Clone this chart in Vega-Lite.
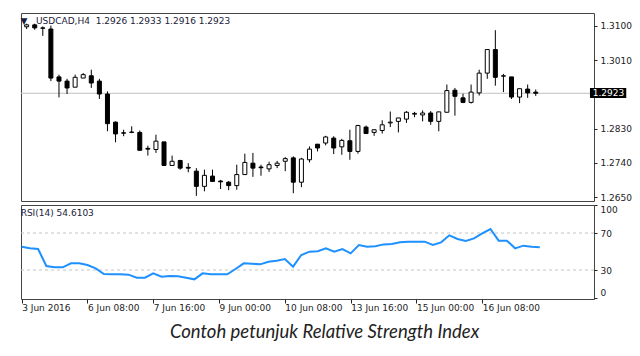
{
  "$schema": "https://vega.github.io/schema/vega-lite/v6.json",
  "padding": {"left": 17, "top": 12, "right": 0, "bottom": 0},
  "autosize": {"type": "pad"},
  "background": "white",
  "config": {
    "view": {"stroke": "#444", "strokeWidth": 1},
    "font": "DejaVu Sans",
    "axis": {"labelFont": "DejaVu Sans", "labelFontSize": 9, "labelColor": "#222", "tickColor": "#222", "tickSize": 3, "domain": false, "grid": false, "title": null, "labelOverlap": false}
  },
  "datasets": {
    "bars": [
      {"i": 0, "o": 1.3098, "h": 1.3106, "l": 1.3092, "c": 1.3103, "r": 55.2},
      {"i": 1, "o": 1.3103, "h": 1.3106, "l": 1.3090, "c": 1.3095, "r": 53.4},
      {"i": 2, "o": 1.3095, "h": 1.3099, "l": 1.3074, "c": 1.3094, "r": 52.7},
      {"i": 3, "o": 1.3092, "h": 1.3101, "l": 1.2955, "c": 1.2963, "r": 34.3},
      {"i": 4, "o": 1.2966, "h": 1.2972, "l": 1.2912, "c": 1.2955, "r": 32.9},
      {"i": 5, "o": 1.2955, "h": 1.2961, "l": 1.2921, "c": 1.2937, "r": 32.9},
      {"i": 6, "o": 1.2939, "h": 1.2972, "l": 1.2939, "c": 1.2965, "r": 37.2},
      {"i": 7, "o": 1.2963, "h": 1.2976, "l": 1.2963, "c": 1.2972, "r": 37.2},
      {"i": 8, "o": 1.2969, "h": 1.2985, "l": 1.2937, "c": 1.2950, "r": 35.4},
      {"i": 9, "o": 1.2955, "h": 1.2961, "l": 1.2908, "c": 1.2921, "r": 31.8},
      {"i": 10, "o": 1.2921, "h": 1.2928, "l": 1.2823, "c": 1.2843, "r": 25.7},
      {"i": 11, "o": 1.2847, "h": 1.2849, "l": 1.2794, "c": 1.2816, "r": 25.3},
      {"i": 12, "o": 1.2819, "h": 1.2827, "l": 1.2810, "c": 1.2818, "r": 25.3},
      {"i": 13, "o": 1.2820, "h": 1.2836, "l": 1.2818, "c": 1.2821, "r": 25.0},
      {"i": 14, "o": 1.2820, "h": 1.2825, "l": 1.2772, "c": 1.2773, "r": 21.7},
      {"i": 15, "o": 1.2778, "h": 1.2785, "l": 1.2759, "c": 1.2776, "r": 21.7},
      {"i": 16, "o": 1.2775, "h": 1.2814, "l": 1.2766, "c": 1.2797, "r": 26.4},
      {"i": 17, "o": 1.2795, "h": 1.2795, "l": 1.2732, "c": 1.2733, "r": 22.8},
      {"i": 18, "o": 1.2733, "h": 1.2759, "l": 1.2732, "c": 1.2744, "r": 23.5},
      {"i": 19, "o": 1.2746, "h": 1.2748, "l": 1.2722, "c": 1.2726, "r": 23.2},
      {"i": 20, "o": 1.2728, "h": 1.2739, "l": 1.2715, "c": 1.2726, "r": 21.7},
      {"i": 21, "o": 1.2718, "h": 1.2726, "l": 1.2653, "c": 1.2678, "r": 19.9},
      {"i": 22, "o": 1.2678, "h": 1.2722, "l": 1.2665, "c": 1.2707, "r": 26.4},
      {"i": 23, "o": 1.2705, "h": 1.2722, "l": 1.2690, "c": 1.2691, "r": 25.3},
      {"i": 24, "o": 1.2692, "h": 1.2695, "l": 1.2671, "c": 1.2690, "r": 25.3},
      {"i": 25, "o": 1.2689, "h": 1.2692, "l": 1.2668, "c": 1.2680, "r": 25.3},
      {"i": 26, "o": 1.2680, "h": 1.2735, "l": 1.2669, "c": 1.2709, "r": 31.1},
      {"i": 27, "o": 1.2709, "h": 1.2764, "l": 1.2709, "c": 1.2741, "r": 37.2},
      {"i": 28, "o": 1.2739, "h": 1.2766, "l": 1.2703, "c": 1.2726, "r": 36.8},
      {"i": 29, "o": 1.2729, "h": 1.2735, "l": 1.2706, "c": 1.2727, "r": 36.1},
      {"i": 30, "o": 1.2724, "h": 1.2743, "l": 1.2716, "c": 1.2735, "r": 39.0},
      {"i": 31, "o": 1.2733, "h": 1.2745, "l": 1.2726, "c": 1.2739, "r": 40.1},
      {"i": 32, "o": 1.2744, "h": 1.2755, "l": 1.2718, "c": 1.2751, "r": 41.9},
      {"i": 33, "o": 1.2753, "h": 1.2757, "l": 1.2660, "c": 1.2689, "r": 33.6},
      {"i": 34, "o": 1.2689, "h": 1.2753, "l": 1.2676, "c": 1.2750, "r": 46.2},
      {"i": 35, "o": 1.2748, "h": 1.2783, "l": 1.2741, "c": 1.2776, "r": 49.8},
      {"i": 36, "o": 1.2789, "h": 1.2789, "l": 1.2770, "c": 1.2779, "r": 50.2},
      {"i": 37, "o": 1.2792, "h": 1.2811, "l": 1.2786, "c": 1.2808, "r": 53.4},
      {"i": 38, "o": 1.2805, "h": 1.2810, "l": 1.2763, "c": 1.2779, "r": 49.8},
      {"i": 39, "o": 1.2782, "h": 1.2803, "l": 1.2761, "c": 1.2799, "r": 52.7},
      {"i": 40, "o": 1.2798, "h": 1.2827, "l": 1.2748, "c": 1.2770, "r": 48.0},
      {"i": 41, "o": 1.2770, "h": 1.2840, "l": 1.2764, "c": 1.2838, "r": 57.0},
      {"i": 42, "o": 1.2834, "h": 1.2838, "l": 1.2817, "c": 1.2817, "r": 55.2},
      {"i": 43, "o": 1.2820, "h": 1.2827, "l": 1.2811, "c": 1.2827, "r": 55.6},
      {"i": 44, "o": 1.2825, "h": 1.2852, "l": 1.2817, "c": 1.2840, "r": 57.7},
      {"i": 45, "o": 1.2845, "h": 1.2875, "l": 1.2834, "c": 1.2847, "r": 58.1},
      {"i": 46, "o": 1.2849, "h": 1.2858, "l": 1.2820, "c": 1.2858, "r": 59.9},
      {"i": 47, "o": 1.2855, "h": 1.2876, "l": 1.2845, "c": 1.2873, "r": 60.6},
      {"i": 48, "o": 1.2868, "h": 1.2874, "l": 1.2860, "c": 1.2870, "r": 60.6},
      {"i": 49, "o": 1.2866, "h": 1.2878, "l": 1.2849, "c": 1.2871, "r": 60.6},
      {"i": 50, "o": 1.2871, "h": 1.2876, "l": 1.2840, "c": 1.2849, "r": 57.0},
      {"i": 51, "o": 1.2849, "h": 1.2874, "l": 1.2823, "c": 1.2874, "r": 59.9},
      {"i": 52, "o": 1.2873, "h": 1.2946, "l": 1.2873, "c": 1.2930, "r": 67.5},
      {"i": 53, "o": 1.2931, "h": 1.2937, "l": 1.2864, "c": 1.2915, "r": 63.5},
      {"i": 54, "o": 1.2911, "h": 1.2922, "l": 1.2897, "c": 1.2899, "r": 61.4},
      {"i": 55, "o": 1.2899, "h": 1.2946, "l": 1.2896, "c": 1.2926, "r": 64.2},
      {"i": 56, "o": 1.2924, "h": 1.2985, "l": 1.2917, "c": 1.2976, "r": 69.6},
      {"i": 57, "o": 1.2976, "h": 1.3038, "l": 1.2961, "c": 1.3038, "r": 74.3},
      {"i": 58, "o": 1.3038, "h": 1.3089, "l": 1.2943, "c": 1.2965, "r": 61.7},
      {"i": 59, "o": 1.2968, "h": 1.2974, "l": 1.2926, "c": 1.2969, "r": 61.7},
      {"i": 60, "o": 1.2966, "h": 1.2966, "l": 1.2908, "c": 1.2913, "r": 53.4},
      {"i": 61, "o": 1.2913, "h": 1.2935, "l": 1.2897, "c": 1.2935, "r": 56.3},
      {"i": 62, "o": 1.2934, "h": 1.2946, "l": 1.2911, "c": 1.2924, "r": 55.2},
      {"i": 63, "o": 1.2926, "h": 1.2933, "l": 1.2916, "c": 1.2923, "r": 54.6}
    ]
  },
  "title": {"text": "Contoh petunjuk Relative Strength Index", "orient": "bottom", "anchor": "middle", "font": "Lato", "fontStyle": "italic", "fontWeight": "normal", "fontSize": 18.5, "color": "#222", "offset": 10},
  "spacing": 1,
  "vconcat": [
    {
      "width": 573,
      "height": 188,
      "title": {"text": "▼\u00a0\u00a0\u00a0USDCAD,H4\u00a0\u00a01.2926 1.2933 1.2916 1.2923", "anchor": "start", "orient": "top", "offset": -13, "dx": 0, "fontSize": 9, "font": "DejaVu Sans", "fontWeight": "normal", "color": "#1b1b3a"},
      "layer": [
        {
          "data": {"values": [{"p": 1.2923}]},
          "mark": {"type": "rule", "color": "#c0c0c0", "strokeWidth": 1},
          "encoding": {
            "y": {"field": "p", "type": "quantitative", "scale": {"domain": [1.26395, 1.31342], "nice": false, "zero": false},
                  "axis": {"orient": "right", "values": [1.2650, 1.2740, 1.2830, 1.3010, 1.3100], "format": ".4f", "labelPadding": 3}}
          }
        },
        {
          "data": {"name": "bars"},
          "mark": {"type": "rule", "color": "#000", "strokeWidth": 1},
          "encoding": {
            "x": {"field": "i", "type": "quantitative", "scale": {"domain": [-0.08, 69.59], "nice": false, "zero": false}, "axis": null},
            "y": {"field": "l", "type": "quantitative"},
            "y2": {"field": "h"}
          }
        },
        {
          "data": {"name": "bars"},
          "mark": {"type": "bar", "orient": "vertical", "size": 4, "stroke": "#000", "strokeWidth": 1},
          "encoding": {
            "x": {"field": "i", "type": "quantitative"},
            "y": {"field": "o", "type": "quantitative"},
            "y2": {"field": "c"},
            "fill": {"condition": {"test": "datum.c >= datum.o", "value": "#ffffff"}, "value": "#000000"}
          }
        },
        {
          "data": {"values": [{"x1": 69.71, "x2": 74.2, "y1": 1.29368, "y2": 1.29105}]},
          "mark": {"type": "rect", "color": "#000"},
          "encoding": {
            "x": {"field": "x1", "type": "quantitative"},
            "x2": {"field": "x2"},
            "y": {"field": "y1", "type": "quantitative"},
            "y2": {"field": "y2"}
          }
        },
        {
          "data": {"values": [{"x": 70.05, "p": 1.2923, "t": "1.2923"}]},
          "mark": {"type": "text", "align": "left", "baseline": "middle", "color": "#fff", "fontSize": 9, "fontWeight": "normal", "font": "DejaVu Sans"},
          "encoding": {
            "x": {"field": "x", "type": "quantitative"},
            "y": {"field": "p", "type": "quantitative"},
            "text": {"field": "t"}
          }
        }
      ]
    },
    {
      "width": 573,
      "height": 94,
      "title": {"text": "RSI(14) 54.6103", "anchor": "start", "orient": "top", "offset": -13, "dx": 3, "fontSize": 9, "font": "DejaVu Sans", "fontWeight": "normal", "color": "#1b1b3a"},
      "layer": [
        {
          "data": {"values": [{"lv": 70}, {"lv": 30}]},
          "mark": {"type": "rule", "color": "#c4c4c4", "strokeWidth": 1, "strokeDash": [3, 3]},
          "encoding": {
            "y": {"field": "lv", "type": "quantitative", "scale": {"domain": [-1.35, 100.27], "nice": false, "zero": false},
                  "axis": {"orient": "right", "values": [0, 30, 70, 100], "labelFlush": 5, "labelOverlap": false, "labelPadding": 3}}
          }
        },
        {
          "data": {"name": "bars"},
          "mark": {"type": "line", "color": "#1e90ff", "strokeWidth": 2},
          "encoding": {
            "x": {"field": "i", "type": "quantitative", "scale": {"domain": [-0.08, 69.59], "nice": false, "zero": false},
                  "axis": {"orient": "bottom", "values": [0, 8, 16, 24, 32, 40, 48, 56], "tickSize": 4, "labelAlign": "left", "labelPadding": 0, "labelFlush": false, "labelOverlap": false,
                           "labelExpr": "['3 Jun 2016','6 Jun 08:00','7 Jun 16:00','9 Jun 00:00','10 Jun 08:00','13 Jun 16:00','15 Jun 00:00','16 Jun 08:00'][round(datum.value/8)]"}},
            "y": {"field": "r", "type": "quantitative", "axis": {"orient": "right", "values": [0, 30, 70, 100], "labelFlush": 5, "labelOverlap": false, "labelPadding": 3}}
          }
        }
      ]
    }
  ]
}
